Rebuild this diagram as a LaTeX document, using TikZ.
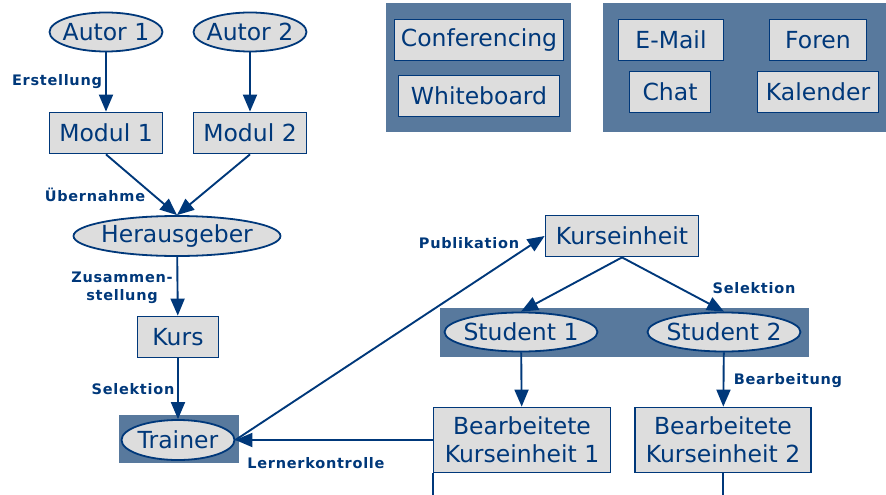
\documentclass[tikz,border=0pt]{standalone}
\usepackage{fontspec}
\setmainfont{DejaVu Sans}
\newfontfamily\lblfont[LetterSpace=5]{DejaVu Sans Bold}
\usetikzlibrary{shapes.geometric,arrows.meta}
\definecolor{dblue}{RGB}{0,56,122}
\definecolor{panel}{RGB}{88,121,157}
\definecolor{boxgray}{RGB}{221,221,221}

\begin{document}
\begin{tikzpicture}[x=1pt,y=-1pt]
\tikzstyle{box}=[draw=dblue,fill=boxgray,line width=1.8pt,text=dblue,inner sep=0pt,font=\fontsize{23.5}{28}\selectfont,align=center,minimum height=41pt]
\tikzstyle{ell}=[box,ellipse,minimum height=39pt,inner xsep=-4pt]
\tikzstyle{lbl}=[text=dblue,font=\lblfont\fontsize{14.5}{17.5}\selectfont,inner sep=0pt,align=center]
\tikzstyle{conn}=[draw=dblue,line width=1.9pt,-{Triangle[length=17pt,width=14pt]}]
\useasboundingbox (0,0) rectangle (886,495);

% hintergrund
\fill[panel] (386,3) rectangle (571,132);
\fill[panel] (603,3) rectangle (886,132);
\fill[panel] (440,308) rectangle (809,357);
\fill[panel] (119,415) rectangle (239,463);

% werkzeuge
\node[box,minimum width=169pt] (conf) at (479,40) {Conferencing};
\node[box,minimum width=161pt] (wb) at (479,96) {Whiteboard};
\node[box,minimum width=105pt] (mail) at (671,40) {E-Mail};
\node[box,minimum width=97pt] (foren) at (818,40) {Foren};
\node[box,minimum width=81pt] (chat) at (670,92) {Chat};
\node[box,minimum width=121pt] (kal) at (818,92) {Kalender};

% autoren
\node[ell,minimum width=113pt] (a1) at (106,32) {Autor 1};
\node[ell,minimum width=113pt] (a2) at (250,32) {Autor 2};
\node[box,minimum width=113pt] (m1) at (106,133) {Modul 1};
\node[box,minimum width=113pt] (m2) at (250,133) {Modul 2};
\node[ell,minimum width=207pt,minimum height=40pt] (hg) at (177,236) {Herausgeber};
\node[box,minimum width=81pt] (kurs) at (178,337) {Kurs};
\node[ell,minimum width=113pt,minimum height=40pt] (tr) at (178,440) {Trainer};

% lernende
\node[box,minimum width=153pt] (ke) at (622,236) {Kurseinheit};
\node[ell,minimum width=153pt] (s1) at (521,332) {Student 1};
\node[ell,minimum width=153pt] (s2) at (724,332) {Student 2};
\node[box,minimum width=177pt,minimum height=65pt] (bk1) at (522,440) {Bearbeitete\\Kurseinheit 1};
\node[box,minimum width=176pt,minimum height=65pt] (bk2) at (723,440) {Bearbeitete\\Kurseinheit 2};
\coordinate (e1) at (bk1.south west |- 0,495);
\coordinate (e2) at (bk2.south |- 0,495);

% beschriftungen
\node[lbl] (l1) at (57,82) {Erstellung};
\node[lbl] (l2) at (95,195) {Übernahme};
\node[lbl] (l3) at (122,288) {Zusammen-\\stellung};
\node[lbl] (l4) at (133,389) {Selektion};
\node[lbl] (l5) at (316,463) {Lernerkontrolle};
\node[lbl] (l6) at (469,243) {Publikation};
\node[lbl] (l7) at (754,288) {Selektion};
\node[lbl] (l8) at (788,381) {Bearbeitung};

% pfeile
\draw[conn] (a1) -- (m1);
\draw[conn] (a2) -- (m2);
\draw[conn] (m1.south) -- (hg.north);
\draw[conn] (m2.south) -- (hg.north);
\draw[conn] (hg) -- (kurs);
\draw[conn] (kurs) -- (tr);
\draw[conn] (bk1.west) -- (tr.east);
\draw[conn] (tr.east) -- (ke.west);
\draw[conn] (ke.south) -- (s1.north);
\draw[conn] (ke.south) -- (s2.north);
\draw[conn] (s1) -- (bk1);
\draw[conn] (s2) -- (bk2);
\draw[draw=dblue,line width=1.8pt] (bk1.south west) -- (e1);
\draw[draw=dblue,line width=1.8pt] (bk2.south) -- (e2);
\end{tikzpicture}
\end{document}
